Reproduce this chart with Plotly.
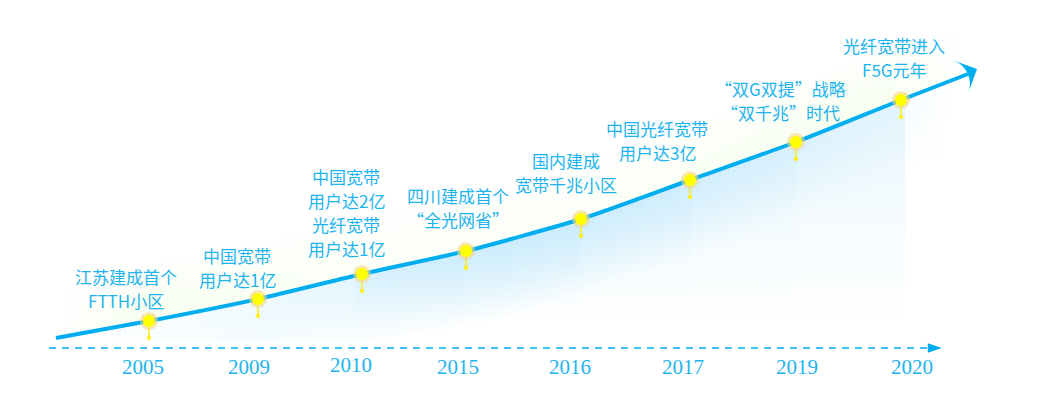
# fibre broadband milestones, rising curve over a dashed time axis
import plotly.graph_objects as go

years = ['2005', '2009', '2010', '2015', '2016', '2017', '2019', '2020']
notes = [
    ['江苏建成首个', 'FTTH小区'],
    ['中国宽带', '用户达1亿'],
    ['中国宽带', '用户达2亿', '光纤宽带', '用户达1亿'],
    ['四川建成首个', '“全光网省”'],
    ['国内建成', '宽带千兆小区'],
    ['中国光纤宽带', '用户达3亿'],
    ['“双G双提”战略', '“双千兆”时代'],
    ['光纤宽带进入', 'F5G元年'],
]
# milestone position along the axis and height of the curve above it
point_x = [149, 258, 362, 466, 581, 690, 796, 901]
point_h = [27, 49, 74, 97, 129, 168, 206, 248]
# curve ends
start_x, start_h = 56, 10
end_x, end_h = 968, 274
tip_x, tip_h = 977, 279

panel_edges = [356, 464, 582, 693, 797, 905]
year_x = [143, 249, 351, 458, 570, 683, 797, 912]
year_h = [-19, -19, -17, -19, -19, -19, -19, -19]
note_x = [126, 237, 346, 458, 566, 657, 780, 894]
note_top = [72, 93, 172, 153, 188, 220, 260, 303]

BLUE = '#00aeef'
TEXT = '#1db4ee'
YELLOW = '#ffee00'
BASE = 348
LINE_STEP = 24
PAGE_MARGIN = 8  # the page body keeps 8px around the plot

curve_x = [start_x] + point_x + [end_x]
curve_h = [start_h] + point_h + [end_h]

fig = go.Figure()


def add_band(xs, top, bottom, stops):
    fig.add_trace(go.Scatter(
        x=xs + xs[::-1], y=top + bottom[::-1], mode='lines', line=dict(width=0),
        fill='toself', hoverinfo='skip', showlegend=False,
        fillgradient=dict(type='horizontal', colorscale=stops),
    ))


# soft green glow above the curve
for off in range(4, 64, 4):
    add_band(curve_x, [h + off for h in curve_h], curve_h,
             [[0, 'rgba(225,248,200,0)'], [0.1, 'rgba(225,248,200,0.025)'],
              [0.35, 'rgba(225,248,200,0.01)'], [0.6, 'rgba(225,248,200,0.01)'],
              [0.88, 'rgba(225,248,200,0.025)'], [1, 'rgba(225,248,200,0)']])

# soft blue band under the curve
for off in range(5, 80, 5):
    add_band(curve_x, curve_h, [max(h - off, 6) for h in curve_h],
             [[0, 'rgba(130,210,245,0)'], [0.12, 'rgba(130,210,245,0.004)'],
              [0.5, 'rgba(130,210,245,0.028)'], [0.72, 'rgba(130,210,245,0.022)'],
              [0.9, 'rgba(130,210,245,0.008)'], [1, 'rgba(130,210,245,0)']])

# the lighter panels between milestones
for i in range(len(panel_edges) - 1):
    left, right = panel_edges[i], panel_edges[i + 1]
    ys = [point_h[i + 2], point_h[i + 3], 0, 0]
    fig.add_trace(go.Scatter(
        x=[left, right, right, left], y=ys, mode='lines', line=dict(width=0), fill='toself',
        hoverinfo='skip', showlegend=False,
        fillgradient=dict(type='vertical', start=point_h[i + 3], stop=25,
                          colorscale=[[0, 'rgba(170,222,248,0.26)'], [1, 'rgba(170,222,248,0)']]),
    ))

# dashed time axis
fig.add_trace(go.Scatter(
    x=[49, 934], y=[0, 0], mode='lines', hoverinfo='skip', showlegend=False,
    line=dict(color=BLUE, width=1.6, dash='7px,6px'),
))
fig.add_trace(go.Scatter(
    x=[942], y=[0], mode='markers', hoverinfo='skip', showlegend=False,
    marker=dict(symbol='arrow', angle=90, size=15, color=BLUE, line=dict(width=0)),
))

# main curve and its arrow head
fig.add_trace(go.Scatter(
    x=curve_x, y=curve_h, mode='lines', hoverinfo='skip', showlegend=False,
    line=dict(color=BLUE, width=4, shape='spline', smoothing=0.6),
))
fig.add_trace(go.Scatter(
    x=[tip_x], y=[tip_h], mode='markers', hoverinfo='skip', showlegend=False,
    marker=dict(symbol='arrow-wide', angle=65, size=25, color=BLUE, line=dict(width=0)),
))

# pins: stem + end dot, then halo and yellow head
stem = [17] * len(point_h)
fig.add_trace(go.Scatter(
    x=point_x, y=[h - s for h, s in zip(point_h, stem)], mode='markers',
    hoverinfo='skip', showlegend=False,
    marker=dict(size=4, color=YELLOW),
    error_y=dict(type='data', symmetric=False, array=stem, arrayminus=[0] * len(stem),
                 color=YELLOW, thickness=1.4, width=0),
))
fig.add_trace(go.Scatter(
    x=point_x, y=point_h, mode='markers', hoverinfo='skip', showlegend=False,
    marker=dict(size=18, color='rgba(245,215,130,0.6)', line=dict(width=0)),
))
fig.add_trace(go.Scatter(
    x=point_x, y=point_h, mode='markers', hoverinfo='skip', showlegend=False,
    marker=dict(size=12, color='#ffff00', line=dict(width=0)),
))

for x, top, lines in zip(note_x, note_top, notes):
    for k, line in enumerate(lines):
        fig.add_annotation(x=x, y=top - k * LINE_STEP, text=line, showarrow=False,
                           font=dict(family='Noto Sans CJK SC', size=17, color=TEXT))

for x, h, year in zip(year_x, year_h, years):
    fig.add_annotation(x=x, y=h, text=year, showarrow=False,
                       font=dict(family='Liberation Serif', size=21, color=TEXT))

fig.update_layout(
    width=1047 - PAGE_MARGIN, height=409 - PAGE_MARGIN, margin=dict(l=0, r=0, t=0, b=0),
    paper_bgcolor='white', plot_bgcolor='white', showlegend=False,
    xaxis=dict(range=[PAGE_MARGIN, 1047], visible=False, fixedrange=True),
    yaxis=dict(range=[BASE - 409, BASE - PAGE_MARGIN], visible=False, fixedrange=True),
)

fig.write_html("out.html", config={'displayModeBar': False})
